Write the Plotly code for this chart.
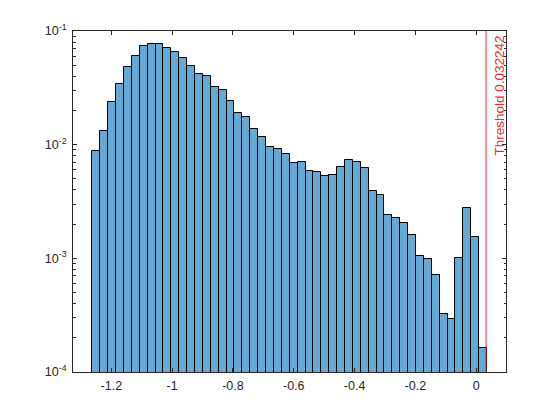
import plotly.graph_objects as go

# Histogram (normalized) values, one per bin
bin_start = -1.262
bin_width = 0.02595
values = [
    0.00877, 0.01315, 0.02366, 0.0341, 0.0481, 0.0601, 0.0736, 0.0767, 0.0767, 0.0706,
    0.0651, 0.0577, 0.0491, 0.0418, 0.0401, 0.0321, 0.0302, 0.0243, 0.0189, 0.0175,
    0.01367, 0.01164, 0.00951, 0.00912, 0.00824, 0.00687, 0.00701, 0.00585, 0.00573, 0.00528,
    0.00539, 0.00634, 0.00731, 0.00701, 0.00621, 0.00390, 0.00359, 0.00239, 0.00225, 0.00204,
    0.00160, 0.00104, 0.00098, 0.00071, 0.000322, 0.000291, 0.00100, 0.00276, 0.00153, 0.000162,
]
threshold = 0.032242

x_ticks = [-1.2, -1.0, -0.8, -0.6, -0.4, -0.2, 0.0]
x_tick_labels = ["-1.2", "-1", "-0.8", "-0.6", "-0.4", "-0.2", "0"]
y_ticks = [1e-4, 1e-3, 1e-2, 1e-1]
y_tick_labels = ["10<sup>-4</sup>", "10<sup>-3</sup>", "10<sup>-2</sup>", "10<sup>-1</sup>"]
y_minor = [m * 10.0 ** e for e in (-4, -3, -2) for m in range(2, 10)]

centers = [bin_start + (i + 0.5) * bin_width for i in range(len(values))]

fig = go.Figure()
fig.add_trace(go.Bar(
    x=centers, y=values, width=bin_width,
    marker=dict(color="rgb(100,170,215)", line=dict(color="black", width=1)),
    showlegend=False,
))

fig.add_vline(x=threshold, line=dict(color="#FF2020", width=1))
fig.add_annotation(
    x=threshold, xref="x", y=1, yref="paper",
    text="Threshold 0.032242", textangle=-90, showarrow=False,
    xanchor="left", yanchor="top", xshift=3, yshift=-3,
    font=dict(color="#FF2020", size=13.5, family="Liberation Sans"),
)

axis_common = dict(
    showline=True, linecolor="#262626", linewidth=1, mirror="allticks",
    ticks="inside", ticklen=4, tickcolor="#262626", showgrid=False, zeroline=False,
    tickfont=dict(size=12.5, color="#262626", family="Liberation Sans"),
)

fig.update_xaxes(range=[-1.326, 0.098], tickmode="array", tickvals=x_ticks,
                 ticktext=x_tick_labels, ticklabelstandoff=2, **axis_common)
fig.update_yaxes(type="log", range=[-4, -1], tickmode="array", tickvals=y_ticks,
                 ticktext=y_tick_labels, ticklabelstandoff=3,
                 minor=dict(tickmode="array", tickvals=y_minor, ticks="inside",
                            ticklen=2.5, tickcolor="#262626"),
                 **axis_common)

fig.update_layout(
    width=560, height=420,
    margin=dict(l=65, r=62, t=23, b=56),
    paper_bgcolor="white", plot_bgcolor="white",
    bargap=0,
    font=dict(family="Liberation Sans"),
)

fig.write_html("out.html")
